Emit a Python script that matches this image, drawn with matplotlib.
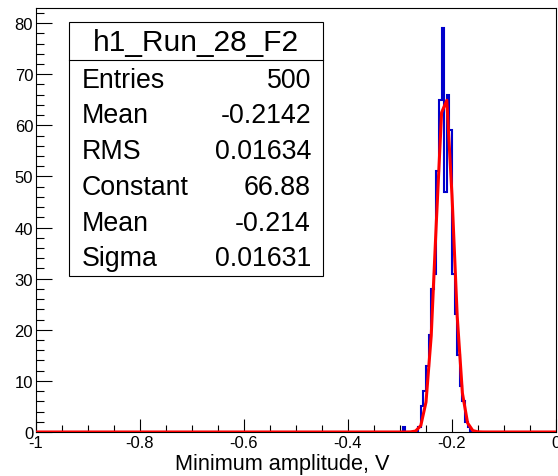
import numpy as np
import matplotlib
matplotlib.use("Agg")
import matplotlib.pyplot as plt
from matplotlib.patches import Rectangle
from matplotlib.lines import Line2D
from matplotlib.ticker import MultipleLocator

plt.rcParams['font.family'] = ['Liberation Sans', 'DejaVu Sans']

# ---------------- data ----------------
n_bins = 200
x_min, x_max = -1.0, 0.0
first_filled_bin = 141          # index of first listed bin (bin width 0.005)
bin_counts = [1, 0, 0, 0, 0, 0, 1, 5, 8, 13, 19, 28, 31, 51, 65, 79,
              47, 66, 59, 31, 23, 15, 9, 6, 2, 1]
fit_constant = 66.88
fit_mean = -0.214
fit_sigma = 0.01631
fit_npx = 100                   # ROOT TF1 default number of drawing segments
hist_name = "h1_Run_28_F2"
stats_labels = ["Entries", "Mean", "RMS", "Constant", "Mean", "Sigma"]
stats_values = ["500", "-0.2142", "0.01634", "66.88", "-0.214", "0.01631"]
x_ticks = [-1.0, -0.8, -0.6, -0.4, -0.2, 0.0]
x_tick_labels = ["-1", "-0.8", "-0.6", "-0.4", "-0.2", "0"]
y_ticks = [0, 10, 20, 30, 40, 50, 60, 70, 80]
x_title = "Minimum amplitude, V"

# ---------------- figure ----------------
W, H = 558, 477
fig = plt.figure(figsize=(W / 100, H / 100), dpi=100)
fig.patch.set_facecolor('white')

def fx(px):
    return px / W

def fy(py):
    return 1 - py / H

ax_l, ax_r, ax_t, ax_b = 36, 556, 9, 433
ax = fig.add_axes([fx(ax_l), fy(ax_b), (ax_r - ax_l) / W, (ax_b - ax_t) / H])

counts = np.zeros(n_bins)
counts[first_filled_bin:first_filled_bin + len(bin_counts)] = bin_counts
edges = np.linspace(x_min, x_max, n_bins + 1)

ax.stairs(counts, edges, color='#0000cc', lw=1.5, baseline=None, zorder=2)

xf = np.linspace(x_min, x_max, fit_npx + 1)
yf = fit_constant * np.exp(-0.5 * ((xf - fit_mean) / fit_sigma) ** 2)
ax.plot(xf, yf, color='#ff0000', lw=2.2, zorder=3)

ax.set_xlim(x_min, x_max)
ax.set_ylim(0, 1.05 * max(bin_counts))

ax.set_xticks(x_ticks)
ax.set_xticklabels(x_tick_labels)
ax.set_yticks(y_ticks)
ax.xaxis.set_minor_locator(MultipleLocator(0.05))
ax.yaxis.set_minor_locator(MultipleLocator(2))
ax.tick_params(axis='x', which='major', direction='in', length=9.4, width=0.8,
               labelsize=12, pad=2, top=False)
ax.tick_params(axis='x', which='minor', direction='in', length=4.7, width=0.8, top=False)
ax.tick_params(axis='y', which='major', direction='in', length=11.5, width=0.8,
               labelsize=12, pad=2, right=False)
ax.tick_params(axis='y', which='minor', direction='in', length=5.8, width=0.8, right=False)
for s in ax.spines.values():
    s.set_linewidth(0.8)

ax.set_xlabel(x_title, fontsize=15.7)
ax.xaxis.set_label_coords((282 - ax_l) / (ax_r - ax_l), -(465 - ax_b) / (ax_b - ax_t))
ax.xaxis.label.set_va('center')

# ---------------- stats box ----------------
bx0, bx1, by0, by1 = 69, 323, 23, 277
fig.patches.append(Rectangle((fx(bx0), fy(by1)), (bx1 - bx0) / W, (by1 - by0) / H,
                             transform=fig.transFigure, facecolor='white',
                             edgecolor='black', lw=0.8, zorder=5))
fig.lines.append(Line2D([fx(bx0), fx(bx1)], [fy(61), fy(61)], transform=fig.transFigure,
                        color='black', lw=0.8, zorder=6))
fig.text(fx((bx0 + bx1) / 2), fy(43), hist_name, ha='center', va='center',
         fontsize=21.5, zorder=7)
for i, (lab, val) in enumerate(zip(stats_labels, stats_values)):
    yy = 80.5 + 35.8 * i
    fig.text(fx(82), fy(yy), lab, ha='left', va='center', fontsize=19.3, zorder=7)
    fig.text(fx(311), fy(yy), val, ha='right', va='center', fontsize=19.3, zorder=7)

fig.savefig('out.png', dpi=100)
